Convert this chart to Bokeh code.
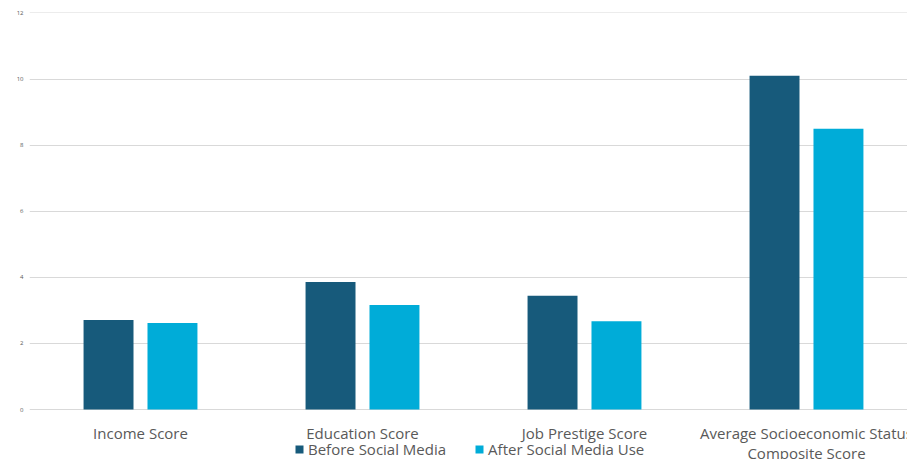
from bokeh.plotting import figure
from bokeh.models import Range1d, FixedTicker, ColumnDataSource, Legend, LegendItem
from bokeh.core.properties import value
from bokeh.transform import dodge
from bokeh.embed import file_html
from bokeh.resources import INLINE

categories = ["Income Score", "Education Score", "Job Prestige Score",
              "Average Socioeconomic Status\nComposite Score"]
before = [2.71, 3.86, 3.44, 10.1]
after = [2.62, 3.16, 2.67, 8.5]
y_ticks = [0, 2, 4, 6, 8, 10, 12]

xpos = [i + 0.5 for i in range(len(categories))]
src = ColumnDataSource(dict(x=xpos, before=before, after=after,
                            label=categories, base=[0] * len(categories)))

FONT = "Open Sans"
GRAY = "#595959"

p = figure(width=907, height=459, output_backend="svg", toolbar_location=None,
           x_range=Range1d(0, 3.955), y_range=Range1d(-1.512, 12.015),
           min_border_left=29, min_border_right=0, min_border_top=12, min_border_bottom=0,
           outline_line_color=None)
p.xgrid.grid_line_color = None
p.ygrid.grid_line_color = "#d9d9d9"
p.ygrid.ticker = FixedTicker(ticks=y_ticks)
p.xaxis.visible = False

r1 = p.vbar(x=dodge("x", -0.144, range=p.x_range), top="before", width=0.225, bottom=0,
            source=src, fill_color="#175A7B", line_color=None)
r2 = p.vbar(x=dodge("x", 0.144, range=p.x_range), top="after", width=0.225, bottom=0,
            source=src, fill_color="#00ACD8", line_color=None)

p.text(x="x", y="base", text="label", source=src, text_align="center",
       text_baseline="top", y_offset=13, text_font=value(FONT),
       text_font_size="15px", text_color=GRAY, text_line_height=1.0)

p.yaxis.ticker = FixedTicker(ticks=y_ticks)
p.yaxis.axis_line_color = None
p.yaxis.major_tick_line_color = None
p.yaxis.minor_tick_line_color = None
p.yaxis.major_tick_out = 0
p.yaxis.major_label_text_font = FONT
p.yaxis.major_label_text_font_size = "6px"
p.yaxis.major_label_text_color = GRAY
p.yaxis.major_label_standoff = 6

legend = Legend(items=[LegendItem(label="Before Social Media", renderers=[r1]),
                       LegendItem(label="After Social Media Use", renderers=[r2])],
                orientation="horizontal", location=(265, 0),
                background_fill_alpha=0, border_line_color=None,
                label_text_font=FONT, label_text_font_size="15px", label_text_color=GRAY,
                glyph_width=10, glyph_height=10, label_standoff=4, spacing=28,
                padding=0, margin=0)
p.add_layout(legend, "center")

open("out.html", "w").write(file_html(p, INLINE))
